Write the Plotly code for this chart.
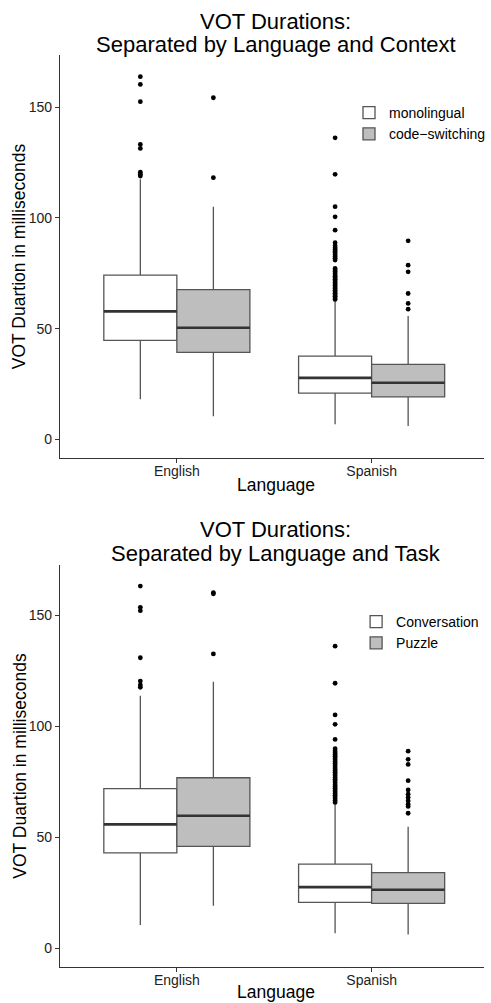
import plotly.graph_objects as go

# ---------------- data ----------------
languages = ["English", "Spanish"]
y_tick_vals = [0, 50, 100, 150]

# Panel 1: Context
ctx_groups = ["monolingual", "code\u2212switching"]
ctx_mono_lower = [18.1, 6.8]
ctx_mono_q1 = [44.7, 20.9]
ctx_mono_median = [57.8, 27.8]
ctx_mono_q3 = [74.2, 37.6]
ctx_mono_upper = [117.5, 62.6]
ctx_mono_out_english = [118.9, 119.8, 120.7, 131.4, 133.2, 152.5, 160.3, 163.8]
ctx_mono_out_spanish = [63.2, 63.9, 64.6, 65.3, 66.0, 66.7, 67.4, 68.1, 68.8, 69.5,
                        70.2, 70.9, 71.6, 72.3, 73.0, 73.7, 74.4, 75.1, 75.8, 76.5,
                        77.2, 81.0, 81.8, 82.6, 83.4, 84.2, 85.0, 85.8, 86.6, 87.4,
                        88.8, 94.5, 100.5, 105.1, 119.7, 136.2]
ctx_cs_lower = [10.5, 6.1]
ctx_cs_q1 = [39.3, 19.2]
ctx_cs_median = [50.4, 25.6]
ctx_cs_q3 = [67.6, 33.9]
ctx_cs_upper = [105.1, 55.7]
ctx_cs_out_english = [118.2, 154.3]
ctx_cs_out_spanish = [58.8, 61.4, 65.9, 75.7, 78.7, 89.7]

# Panel 2: Task
task_groups = ["Conversation", "Puzzle"]
task_conv_lower = [10.5, 6.8]
task_conv_q1 = [43.0, 20.7]
task_conv_median = [55.9, 27.6]
task_conv_q3 = [72.0, 38.0]
task_conv_upper = [113.9, 65.0]
task_conv_out_english = [117.7, 118.7, 120.5, 131.0, 152.2, 153.7, 163.3]
task_conv_out_spanish = [65.8, 66.6, 67.4, 68.2, 69.0, 69.8, 70.6, 71.4, 72.2, 73.0,
                         73.8, 74.6, 75.4, 76.2, 77.0, 77.8, 78.6, 79.4, 80.2, 81.0,
                         81.8, 82.6, 83.4, 84.2, 85.0, 85.8, 86.6, 87.4, 88.2, 89.0,
                         90.0, 94.2, 101.0, 105.2, 119.5, 136.2]
task_puz_lower = [19.2, 6.3]
task_puz_q1 = [46.0, 20.3]
task_puz_median = [59.8, 26.4]
task_puz_q3 = [76.9, 34.1]
task_puz_upper = [120.2, 54.8]
task_puz_out_english = [132.7, 159.8, 160.3]
task_puz_out_spanish = [60.9, 64.0, 65.0, 66.5, 68.0, 69.5, 71.4, 75.6, 82.9, 85.2, 88.9]

# ---------------- style ----------------
FONT = "Liberation Sans, Arial, Helvetica, sans-serif"
FILLS = ["#FFFFFF", "#BEBEBE"]
BOX_LINE = "#555555"
MED_LINE = "#333333"
AXIS_COL = "#333333"
DODGE = 0.1875
BOXW = 0.375

fig = go.Figure()


def add_panel(xa, ya, legend_name, groups, stats_list, outs_list):
    offsets = [-DODGE, DODGE]
    for gi, (g, st, outs) in enumerate(zip(groups, stats_list, outs_list)):
        lower, q1, med, q3, upper = st
        xs = [i + offsets[gi] for i in range(len(languages))]
        fig.add_trace(go.Box(
            x=xs, q1=q1, median=med, q3=q3, lowerfence=lower, upperfence=upper,
            width=BOXW, whiskerwidth=0, boxpoints=False,
            fillcolor=FILLS[gi], line=dict(color=BOX_LINE, width=1.3),
            name=g, legend=legend_name, xaxis=xa, yaxis=ya, hoverinfo="skip",
        ))
        # thicker median lines
        mx, my = [], []
        for x, m in zip(xs, med):
            mx += [x - BOXW / 2, x + BOXW / 2, None]
            my += [m, m, None]
        fig.add_trace(go.Scatter(
            x=mx, y=my, mode="lines", line=dict(color=MED_LINE, width=2.6),
            showlegend=False, xaxis=xa, yaxis=ya, hoverinfo="skip",
        ))
        # outliers
        ox, oy = [], []
        for x, o in zip(xs, outs):
            ox += [x] * len(o)
            oy += list(o)
        fig.add_trace(go.Scatter(
            x=ox, y=oy, mode="markers",
            marker=dict(color="black", size=4.8, line=dict(width=0)),
            showlegend=False, xaxis=xa, yaxis=ya, hoverinfo="skip",
        ))


add_panel("x", "y", "legend", ctx_groups,
          [(ctx_mono_lower, ctx_mono_q1, ctx_mono_median, ctx_mono_q3, ctx_mono_upper),
           (ctx_cs_lower, ctx_cs_q1, ctx_cs_median, ctx_cs_q3, ctx_cs_upper)],
          [(ctx_mono_out_english, ctx_mono_out_spanish),
           (ctx_cs_out_english, ctx_cs_out_spanish)])

add_panel("x2", "y2", "legend2", task_groups,
          [(task_conv_lower, task_conv_q1, task_conv_median, task_conv_q3, task_conv_upper),
           (task_puz_lower, task_puz_q1, task_puz_median, task_puz_q3, task_puz_upper)],
          [(task_conv_out_english, task_conv_out_spanish),
           (task_puz_out_english, task_puz_out_spanish)])

W, H = 491, 1003
ML = 60
PW = W - ML


def py(pix):
    return 1 - pix / H


def px(pix):
    return (pix - ML) / PW


xaxis_common = dict(
    range=[-0.6, 1.577], tickvals=[0, 1], ticktext=languages,
    showline=True, linecolor=AXIS_COL, linewidth=1.1,
    ticks="outside", ticklen=4, tickcolor=AXIS_COL, tickwidth=1,
    showgrid=False, zeroline=False, fixedrange=True, ticklabelstandoff=-4,
    tickfont=dict(family=FONT, size=14, color="#222222"),
)
yaxis_common = dict(
    tickvals=y_tick_vals, showline=True, linecolor=AXIS_COL, linewidth=1.1,
    ticks="outside", ticklen=4, tickcolor=AXIS_COL, tickwidth=1,
    showgrid=False, zeroline=False, fixedrange=True,
    tickfont=dict(family=FONT, size=14, color="#222222"),
)

fig.update_layout(
    width=W, height=H,
    margin=dict(l=ML, r=0, t=0, b=0),
    paper_bgcolor="white", plot_bgcolor="white",
    font=dict(family=FONT, color="black"),
    showlegend=True,
    xaxis=dict(domain=[0, 1], anchor="y", **xaxis_common),
    yaxis=dict(domain=[py(458), py(55)], anchor="x", range=[-8.4, 173.6], **yaxis_common),
    xaxis2=dict(domain=[0, 1], anchor="y2", **xaxis_common),
    yaxis2=dict(domain=[py(967), py(565)], anchor="x2", range=[-8.4, 172.8], **yaxis_common),
    legend=dict(x=px(354), y=py(97), xanchor="left", yanchor="top",
                font=dict(family=FONT, size=14, color="black"),
                bgcolor="rgba(0,0,0,0)", itemwidth=30, tracegroupgap=0),
    legend2=dict(x=px(361), y=py(606), xanchor="left", yanchor="top",
                 font=dict(family=FONT, size=14, color="black"),
                 bgcolor="rgba(0,0,0,0)", itemwidth=30, tracegroupgap=0),
)

annotations = []
title_x = px(279.5)
for text, ycen in [("VOT Durations:", 21), ("Separated by Language and Context", 44.5),
                   ("VOT Durations:", 529.5), ("Separated by Language and Task", 553.5)]:
    annotations.append(dict(text=text, x=title_x, y=py(ycen), xref="paper", yref="paper",
                            xanchor="center", yanchor="middle", showarrow=False,
                            font=dict(family=FONT, size=22, color="black")))
for ycen in [485.5, 992]:
    annotations.append(dict(text="Language", x=title_x, y=py(ycen), xref="paper", yref="paper",
                            xanchor="center", yanchor="middle", showarrow=False,
                            font=dict(family=FONT, size=17.5, color="black")))
for ycen in [256.5, 766]:
    annotations.append(dict(text="VOT Duartion in milliseconds", x=px(19), y=py(ycen),
                            xref="paper", yref="paper", xanchor="center", yanchor="middle",
                            textangle=-90, showarrow=False,
                            font=dict(family=FONT, size=17.5, color="black")))
fig.update_layout(annotations=annotations)

fig.write_html("out.html", config={"displayModeBar": False},
               post_script="document.body.style.margin='0';document.body.style.overflow='hidden';")
